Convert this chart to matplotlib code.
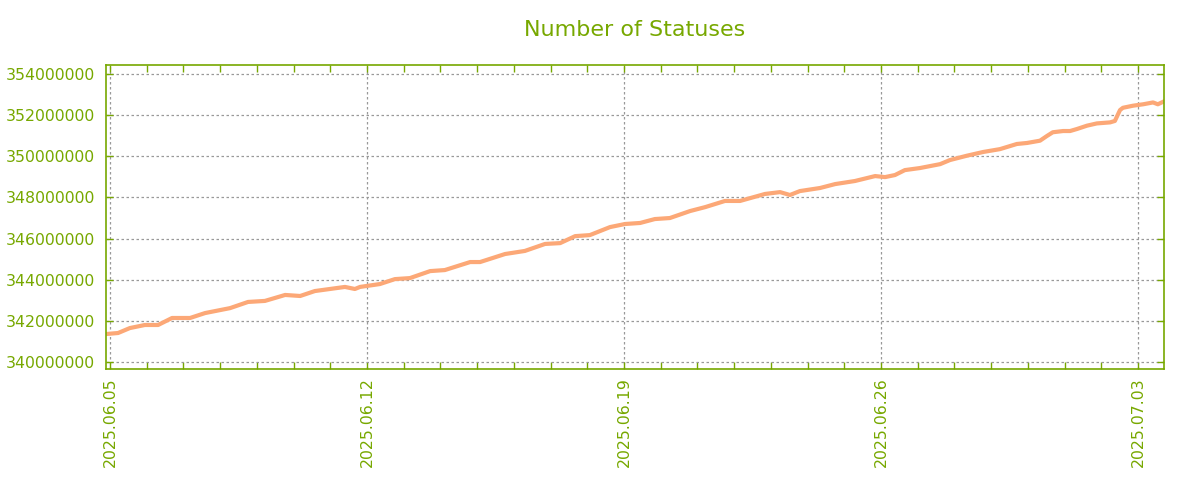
import matplotlib
matplotlib.use("Agg")
import matplotlib.pyplot as plt
import matplotlib.dates as mdates
from matplotlib.ticker import FuncFormatter, MultipleLocator
import numpy as np
import datetime as dt

# Data: days since 2025-06-05 00:00 and number of statuses (millions)
day_offsets = [-0.11, 0.22, 0.54, 0.95, 1.31, 1.69, 2.18, 2.59, 3.27, 3.76, 4.22, 4.77,
               5.18, 5.58, 6.40, 6.67, 6.81, 7.35, 7.76, 8.17, 8.72, 9.12, 9.81, 10.08,
               10.76, 11.30, 11.85, 12.26, 12.67, 13.07, 13.62, 14.03, 14.44, 14.84, 15.25,
               15.80, 16.21, 16.75, 17.16, 17.84, 18.25, 18.52, 18.79, 19.34, 19.75, 20.29,
               20.84, 21.11, 21.38, 21.65, 22.06, 22.61, 22.88, 23.34, 23.78, 24.24, 24.70,
               24.98, 25.33, 25.52, 25.68, 25.96, 26.15, 26.34, 26.61, 26.88, 27.24, 27.37,
               27.51, 27.59, 27.86, 28.14, 28.41, 28.54, 28.73]
statuses_m = [341.36, 341.41, 341.65, 341.80, 341.80, 342.14, 342.14, 342.38, 342.62, 342.92,
              342.97, 343.26, 343.21, 343.45, 343.65, 343.55, 343.65, 343.79, 344.03, 344.08,
              344.42, 344.47, 344.86, 344.86, 345.25, 345.40, 345.74, 345.78, 346.12, 346.17,
              346.56, 346.71, 346.76, 346.95, 347.00, 347.34, 347.53, 347.83, 347.83, 348.17,
              348.26, 348.12, 348.31, 348.46, 348.65, 348.80, 349.04, 348.99, 349.09, 349.33,
              349.43, 349.62, 349.82, 350.03, 350.21, 350.35, 350.60, 350.65, 350.76, 350.99,
              351.17, 351.23, 351.23, 351.33, 351.49, 351.60, 351.65, 351.72, 352.25, 352.36,
              352.46, 352.53, 352.62, 352.53, 352.69]
start_date = dt.datetime(2025, 6, 5)
title = "Number of Statuses"

green = "#77a800"
line_color = "#fca877"

dates = [start_date + dt.timedelta(days=d) for d in day_offsets]
values = [v * 1e6 for v in statuses_m]

fig = plt.figure(figsize=(12, 5), dpi=100)
ax = fig.add_axes([106/1200, 1 - 369/500, (1164 - 106)/1200, (369 - 65)/500])
ax.plot(dates, values, color=line_color, linewidth=3, solid_capstyle="butt")

x0 = mdates.date2num(start_date)
ax.set_xlim(x0 - 0.109, x0 + 28 + 0.708)
ax.set_ylim(339.66e6, 354.44e6)

ax.xaxis.set_major_locator(mdates.DayLocator(bymonthday=[5, 12, 19, 26, 3]))
ax.xaxis.set_minor_locator(mdates.DayLocator())
ax.xaxis.set_major_formatter(mdates.DateFormatter("%Y.%m.%d"))
ax.yaxis.set_major_locator(MultipleLocator(2e6))
ax.yaxis.set_major_formatter(FuncFormatter(lambda v, p: "%d" % round(v)))

for lbl in ax.get_xticklabels():
    lbl.set_rotation(90)

ax.tick_params(axis="both", which="both", direction="in", colors=green,
               labelcolor=green, labelsize=11.3, top=True, right=True)
ax.tick_params(which="major", length=5, width=1)
ax.tick_params(which="minor", length=5, width=1)
ax.tick_params(axis="x", pad=6)
ax.tick_params(axis="y", pad=8)

for s in ax.spines.values():
    s.set_color(green)
    s.set_linewidth(1.2)

ax.grid(True, which="major", color="#999999", linestyle=(0, (2, 2)), linewidth=0.9)
ax.set_axisbelow(True)

fig.text((106 + 1164) / 2 / 1200, 1 - 30 / 500, title, ha="center", va="center",
         fontsize=16, color=green)

fig.savefig("out.png", dpi=100)
